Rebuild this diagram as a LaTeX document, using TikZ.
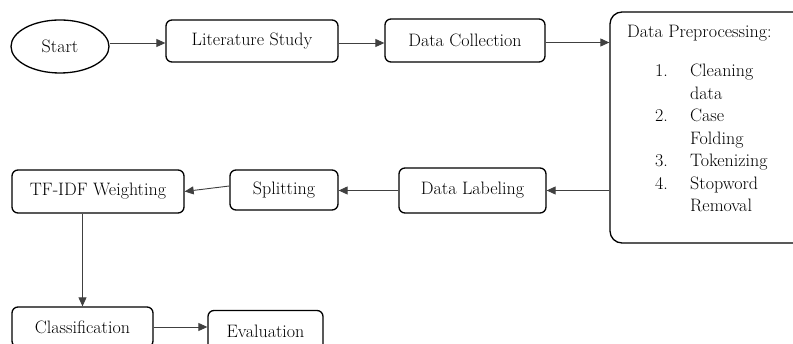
\documentclass[tikz,border=0pt]{standalone}
\usetikzlibrary{shapes.geometric,arrows.meta}
\begin{document}
\begin{tikzpicture}[x=1pt,y=-1pt,
  every node/.style={font=\fontsize{18}{22.5}\selectfont},
  box/.style={draw, line width=1.3pt, rounded corners=6pt, inner sep=0pt, align=center},
  conn/.style={draw=black!75, line width=0.9pt, -{Triangle[length=9pt,width=8pt]}}]
\useasboundingbox (0,0) rectangle (793,344);
\fill[white] (0,0) rectangle (793,344);

\node[draw, ellipse, line width=1.3pt, minimum width=98pt, minimum height=53pt, inner sep=0pt] (start) at (60,46.5) {Start};
\node[box, minimum width=172pt, minimum height=42pt] (lit) at (252,41) {Literature Study};
\node[box, minimum width=160pt, minimum height=43pt] (col) at (465,40.5) {Data Collection};
\node[box, rounded corners=12pt, minimum width=205pt, minimum height=231pt] (prep) at (712.5,127.5) {};
\node[anchor=base west, inner sep=0pt] (preptext) at (627,38) {%
  \begin{tabular}[t]{@{\hspace{28pt}}p{35pt}@{}l@{}}
  \multicolumn{2}{@{}l@{}}{Data Preprocessing:}\\[16.5pt]
  1. & Cleaning\\
     & data\\
  2. & Case\\
     & Folding\\
  3. & Tokenizing\\
  4. & Stopword\\
     & Removal
  \end{tabular}};
\node[box, minimum width=147pt, minimum height=45pt] (lab) at (472.5,190.5) {Data Labeling};
\node[box, minimum width=108pt, minimum height=40pt] (split) at (284,190) {Splitting};
\node[box, minimum width=172pt, minimum height=43pt] (tfidf) at (98,191.5) {TF-IDF Weighting};
\node[box, minimum width=141pt, minimum height=40pt] (class) at (82.5,327) {Classification};
\node[box, minimum width=115pt, minimum height=41pt] (eval) at (265.5,331) {Evaluation};

\coordinate (a1) at ([yshift=3.5pt]start.east);
\coordinate (a2) at ([yshift=-2pt]lit.east);
\coordinate (a3) at ([yshift=-2pt]col.east);
\draw[conn] (a1) -- (a1 -| lit.west);
\draw[conn] (a2) -- (a2 -| col.west);
\draw[conn] (a3) -- (a3 -| prep.west);
\draw[conn] (prep.west |- lab.east) -- (lab.east);
\draw[conn] (lab.west) -- (lab.west -| split.east);
\draw[conn] ([yshift=4pt]split.west) -- (tfidf.east);
\draw[conn] (class.north |- tfidf.south) -- (class.north);
\draw[conn] (class.east) -- (class.east -| eval.west);
\end{tikzpicture}
\end{document}
